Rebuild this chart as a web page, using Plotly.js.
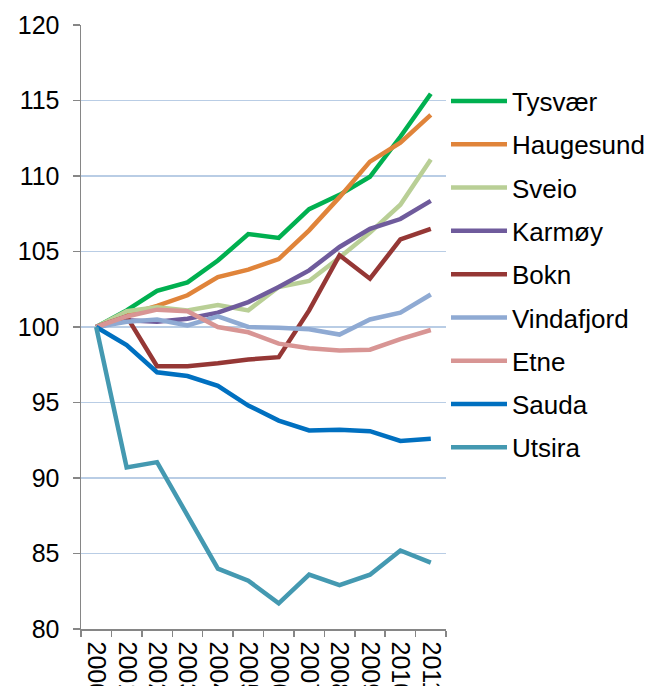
<!DOCTYPE html>
<html>
<head>
<meta charset="utf-8">
<script src="https://cdn.plot.ly/plotly-3.0.1.min.js"></script>
<style>html,body{margin:0;padding:0;background:#fff;}#chart{width:651px;height:686px;}</style>
</head>
<body>
<div id="chart"></div>
<script>
var years = ["2000","2001","2002","2003","2004","2005","2006","2007","2008","2009","2010","2011"];
var names = ["Tysvær","Haugesund","Sveio","Karmøy","Bokn","Vindafjord","Etne","Sauda","Utsira"];
var tysvaer    = [100, 101.1, 102.4, 102.95, 104.4, 106.15, 105.9, 107.8, 108.75, 109.95, 112.6, 115.45];
var haugesund  = [100, 100.8, 101.4, 102.1, 103.3, 103.8, 104.5, 106.4, 108.6, 110.95, 112.2, 114.05];
var sveio      = [100, 101.05, 101.3, 101.1, 101.45, 101.1, 102.65, 103.05, 104.6, 106.25, 108.1, 111.1];
var karmoy     = [100, 100.45, 100.35, 100.55, 100.95, 101.65, 102.65, 103.75, 105.3, 106.5, 107.15, 108.35];
var bokn       = [100, 100.7, 97.4, 97.4, 97.6, 97.85, 98.0, 101.1, 104.75, 103.2, 105.8, 106.5];
var vindafjord = [100, 100.35, 100.5, 100.1, 100.7, 100.0, 99.95, 99.85, 99.5, 100.5, 100.95, 102.15];
var etne       = [100, 100.7, 101.15, 101.05, 100.0, 99.65, 98.9, 98.6, 98.45, 98.5, 99.2, 99.8];
var sauda      = [100, 98.8, 97.0, 96.75, 96.1, 94.8, 93.8, 93.15, 93.2, 93.1, 92.45, 92.6];
var utsira     = [100, 90.7, 91.05, 87.55, 84.0, 83.2, 81.7, 83.6, 82.9, 83.6, 85.2, 84.4];
var yTicks = [80, 85, 90, 95, 100, 105, 110, 115, 120];

var seriesValues = [tysvaer, haugesund, sveio, karmoy, bokn, vindafjord, etne, sauda, utsira];
var colors = ["#00B050","#E0843A","#B9CF96","#6F5B9C","#953735","#8FAAD3","#D89594","#0070C0","#4499B1"];

var traces = names.map(function(n, i){
  return {
    x: years, y: seriesValues[i], name: n, type: "scatter", mode: "lines",
    legendgroup: "g" + i,
    line: {color: colors[i], width: 4.5, shape: "linear"},
    hoverinfo: "skip"
  };
});

var font = {family: "Liberation Sans, Arial, sans-serif", size: 25, color: "#000"};
var layout = {
  width: 651, height: 686,
  margin: {l: 81, r: 205, t: 25, b: 57, pad: 0, autoexpand: false},
  paper_bgcolor: "#fff", plot_bgcolor: "#fff",
  font: font,
  showlegend: true,
  legend: {
    x: 1.0, xanchor: "left", y: 0.913, yanchor: "top",
    font: {family: "Liberation Sans, Arial, sans-serif", size: 26, color: "#000"},
    tracegroupgap: 6.5,
    itemwidth: 56,
    bgcolor: "rgba(0,0,0,0)", borderwidth: 0
  },
  xaxis: {
    type: "category",
    range: [-0.5, 11.5],
    tickvals: years, ticktext: years,
    tickangle: 90,
    tickson: "boundaries",
    ticks: "outside", ticklen: 6, tickwidth: 1.5, tickcolor: "#868686",
    showline: true, linecolor: "#868686", linewidth: 1.5,
    showgrid: false, zeroline: false,
    ticklabelstandoff: 6,
    tickfont: font, fixedrange: true
  },
  yaxis: {
    range: [80, 120],
    tickvals: yTicks,
    ticks: "outside", ticklen: 7, tickwidth: 1.5, tickcolor: "#868686",
    showline: true, linecolor: "#868686", linewidth: 1.5,
    showgrid: true, gridcolor: "#B9CDE5", gridwidth: 1.5,
    zeroline: false,
    ticklabelstandoff: 8,
    tickfont: font, fixedrange: true
  }
};

Plotly.newPlot("chart", traces, layout, {staticPlot: true, displayModeBar: false});
</script>
</body>
</html>
